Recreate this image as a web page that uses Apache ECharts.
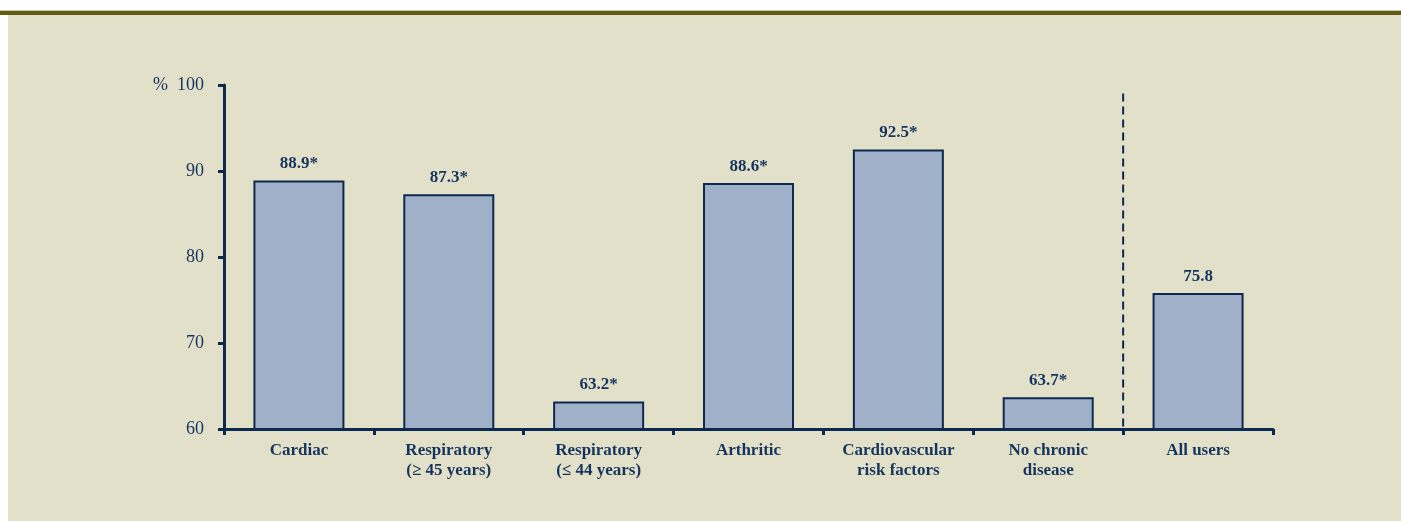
<!DOCTYPE html>
<html>
<head>
<meta charset="utf-8">
<script src="https://cdn.jsdelivr.net/npm/echarts@6/dist/echarts.min.js"></script>
<style>
  html, body { margin: 0; padding: 0; background: #ffffff; }
  #wrap { position: relative; width: 1401px; height: 521px; overflow: hidden; }
  #rule { position: absolute; left: 0; top: 10px; width: 1401px; height: 4px; background: #635c10; border-top: 1px solid #c9c6b2; box-sizing: content-box; }
  #chart { position: absolute; left: 8px; top: 15px; width: 1393px; height: 506px; background: #e3e0c9; }
</style>
</head>
<body>
<div id="wrap">
  <div id="rule"></div>
  <div id="chart"></div>
</div>
<script>
// Disease groups along the horizontal axis
const categories = [
  'Cardiac',
  'Respiratory\n(\u2265 45 years)',
  'Respiratory\n(\u2264 44 years)',
  'Arthritic',
  'Cardiovascular\nrisk factors',
  'No chronic\ndisease',
  'All users'
];
// Percentage per group
const values = [88.9, 87.3, 63.2, 88.6, 92.5, 63.7, 75.8];
// Groups marked as significantly different
const starred = [true, true, true, true, true, true, false];
// Vertical axis ticks
const yTicks = [60, 70, 80, 90, 100];

const navy = '#0c2a4f';
const textNavy = '#15355e';

const chart = echarts.init(document.getElementById('chart'), null, { renderer: 'canvas' });

const option = {
  backgroundColor: 'transparent',
  animation: false,
  grid: { left: 216, right: 128, top: 70, bottom: 92 },
  xAxis: {
    type: 'category',
    data: categories,
    boundaryGap: true,
    axisLine: { lineStyle: { color: navy, width: 3 } },
    axisTick: { show: true, length: 6, lineStyle: { color: navy, width: 3 } },
    axisLabel: {
      color: textNavy,
      fontFamily: 'Liberation Serif',
      fontWeight: 'bold',
      fontSize: 17,
      lineHeight: 20,
      margin: 12,
      interval: 0
    }
  },
  yAxis: {
    type: 'value',
    min: yTicks[0],
    max: yTicks[yTicks.length - 1],
    interval: 10,
    splitLine: { show: false },
    axisLine: { show: true, lineStyle: { color: navy, width: 3 } },
    axisTick: { show: true, length: 6, lineStyle: { color: navy, width: 3 } },
    axisLabel: {
      color: textNavy,
      fontFamily: 'Liberation Serif',
      fontSize: 18,
      margin: 20,
      formatter: v => (v === 100 ? '%  100' : String(v))
    }
  },
  series: [{
    type: 'bar',
    data: values,
    barWidth: 91,
    itemStyle: { color: '#9fb0c8', borderColor: navy, borderWidth: 2 },
    label: {
      show: true,
      position: 'top',
      distance: 8,
      color: textNavy,
      fontFamily: 'Liberation Serif',
      fontWeight: 'bold',
      fontSize: 17,
      formatter: p => p.value.toFixed(1) + (starred[p.dataIndex] ? '*' : '')
    }
  }]
};

chart.setOption(option);

// Dashed separator between the disease groups and the overall figure
const xa = chart.convertToPixel({ xAxisIndex: 0 }, categories[5]);
const xb = chart.convertToPixel({ xAxisIndex: 0 }, categories[6]);
const sepX = (xa + xb) / 2;
const yTop = chart.convertToPixel({ yAxisIndex: 0 }, 99);
const yBot = chart.convertToPixel({ yAxisIndex: 0 }, 60);
chart.setOption({
  graphic: [{
    type: 'line',
    shape: { x1: sepX, y1: yTop, x2: sepX, y2: yBot },
    style: { stroke: navy, lineWidth: 2, lineDash: [8, 5] },
    z: 1
  }]
});
</script>
</body>
</html>
